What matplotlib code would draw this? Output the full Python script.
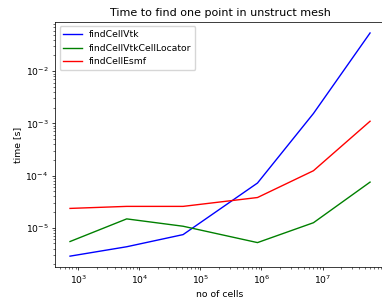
"""Timing plot: time to find one point in an unstructured mesh."""

import matplotlib

matplotlib.use("Agg")
import matplotlib.pyplot as plt
from matplotlib.ticker import FixedLocator

# number of cells in each mesh
n_cells = [731, 6200, 52000, 860000, 7.1e6, 6.0e7]

# time [s] per search method
t_vtk = [2.86e-6, 4.33e-6, 7.4e-6, 7.2e-5, 1.55e-3, 5.4e-2]
t_vtk_locator = [5.45e-6, 1.48e-5, 1.07e-5, 5.2e-6, 1.25e-5, 7.5e-5]
t_esmf = [2.35e-5, 2.57e-5, 2.57e-5, 3.8e-5, 1.24e-4, 1.1e-3]

# labelled decades on the x axis (1e8 sits past the cropped right edge)
x_major = [1e3, 1e4, 1e5, 1e6, 1e7]

SCALE = 0.665

plt.rcParams.update({
    "font.size": 10 * SCALE,
    "axes.titlesize": 12 * SCALE,
    "axes.linewidth": 0.8 * SCALE,
    "xtick.major.size": 3.5 * SCALE,
    "ytick.major.size": 3.5 * SCALE,
    "xtick.minor.size": 2 * SCALE,
    "ytick.minor.size": 2 * SCALE,
    "xtick.major.width": 0.8 * SCALE,
    "ytick.major.width": 0.8 * SCALE,
    "xtick.minor.width": 0.6 * SCALE,
    "ytick.minor.width": 0.6 * SCALE,
    "xtick.major.pad": 3.5 * SCALE,
    "ytick.major.pad": 3.5 * SCALE,
    "axes.titlepad": 6 * SCALE,
    "axes.labelpad": 4 * SCALE,
    "lines.linewidth": 1.5 * SCALE,
})

fig = plt.figure(figsize=(3.82, 2.99), dpi=100)
ax = fig.add_axes([0.144, 0.106, 1.008 - 0.144, 0.927 - 0.106])

ax.loglog(n_cells, t_vtk, "b-", label="findCellVtk")
ax.loglog(n_cells, t_vtk_locator, "g-", label="findCellVtkCellLocator")
ax.loglog(n_cells, t_esmf, "r-", label="findCellEsmf")

ax.xaxis.set_major_locator(FixedLocator(x_major))

ax.set_xlabel("no of cells")
ax.set_ylabel("time [s]")
ax.set_title("Time to find one point in unstruct mesh")
ax.legend(loc="upper left")

fig.savefig("out.png", dpi=100)
plt.close(fig)
